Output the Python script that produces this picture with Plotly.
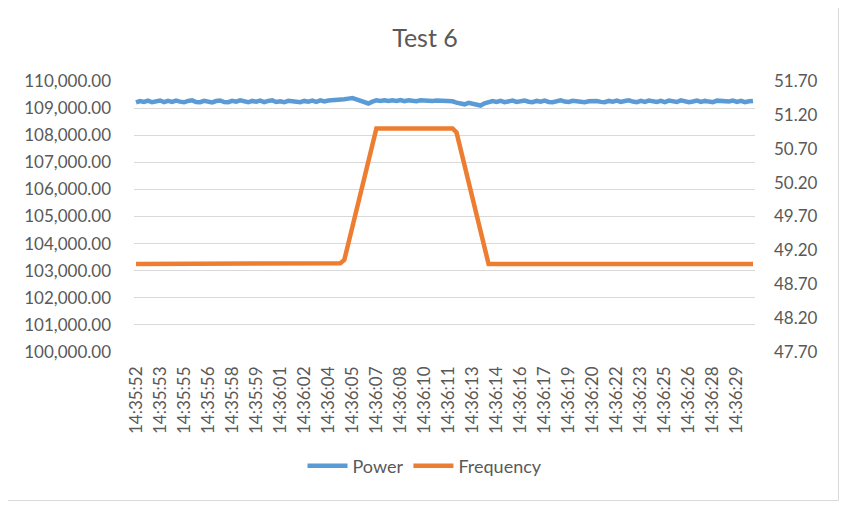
import plotly.graph_objects as go

# ---------------- data ----------------
start_label = "14:35:52"
step_seconds = 0.25

tick_labels = ["14:35:52", "14:35:53", "14:35:55", "14:35:56", "14:35:58", "14:35:59",
               "14:36:01", "14:36:02", "14:36:04", "14:36:05", "14:36:07", "14:36:08",
               "14:36:10", "14:36:11", "14:36:13", "14:36:14", "14:36:16", "14:36:17",
               "14:36:19", "14:36:20", "14:36:22", "14:36:23", "14:36:25", "14:36:26",
               "14:36:28", "14:36:29"]

power = [
    109210, 109260, 109225, 109275, 109215, 109250, 109280, 109220, 109265, 109230,
    109280, 109240, 109215, 109265, 109285, 109225, 109220, 109270, 109240, 109210,
    109260, 109280, 109225, 109220, 109270, 109235, 109285, 109230, 109215, 109265,
    109235, 109275, 109220, 109265, 109285, 109225, 109250, 109215, 109270, 109255,
    109225, 109220, 109265, 109240, 109275, 109230, 109285, 109250, 109280, 109290,
    109310, 109280, 109330, 109350, 109370, 109320, 109280, 109220, 109170, 109240,
    109285, 109265, 109290, 109260, 109285, 109265, 109295, 109255, 109290, 109270,
    109255, 109290, 109270, 109285, 109260, 109280, 109265, 109290, 109270, 109250,
    109200, 109150, 109140, 109195, 109155, 109130, 109095, 109175, 109225, 109260,
    109230, 109265, 109220, 109250, 109275, 109225, 109260, 109280, 109235, 109220,
    109265, 109235, 109275, 109225, 109220, 109265, 109285, 109240, 109225, 109270,
    109260, 109225, 109215, 109250, 109275, 109260, 109230, 109220, 109265, 109240,
    109275, 109225, 109260, 109285, 109240, 109220, 109265, 109230, 109275, 109245,
    109225, 109265, 109220, 109275, 109240, 109225, 109285, 109260, 109220, 109245,
    109275, 109225, 109265, 109240, 109220, 109275, 109260, 109225, 109245, 109275,
    109225, 109265, 109220, 109250, 109265,
]

frequency = [
    49.00, 49.00, 49.00, 49.00, 49.00, 49.00, 49.00, 49.00, 49.00, 49.00,
    49.00, 49.00, 49.00, 49.00, 49.00, 49.00, 49.00, 49.00, 49.00, 49.00,
    49.00, 49.01, 49.00, 49.00, 49.00, 49.00, 49.00, 49.00, 49.00, 49.00,
    49.00, 49.00, 49.00, 49.00, 49.00, 49.00, 49.00, 49.00, 49.00, 49.00,
    49.00, 49.00, 49.00, 49.00, 49.00, 49.00, 49.00, 49.00, 49.00, 49.00,
    49.00, 49.01, 49.06, 49.31, 49.56, 49.81, 50.06, 50.31, 50.56, 50.81,
    51.00, 51.00, 51.00, 51.00, 51.00, 51.00, 51.00, 51.00, 51.00, 51.00,
    51.00, 51.00, 51.00, 51.00, 51.00, 51.00, 51.00, 51.00, 51.00, 51.00,
    50.94, 50.69, 50.44, 50.19, 49.94, 49.69, 49.44, 49.19, 49.00, 49.00,
    49.00, 49.01, 49.00, 49.00, 49.00, 49.01, 49.00, 49.00, 49.00, 49.00,
    49.00, 49.00, 49.00, 49.00, 49.00, 49.00, 49.00, 49.00, 49.00, 49.00,
    49.00, 49.00, 49.00, 49.00, 49.01, 49.00, 49.00, 49.00, 49.00, 49.00,
    49.00, 49.00, 49.00, 49.00, 49.00, 49.00, 49.00, 49.00, 49.00, 49.00,
    49.00, 49.00, 49.00, 49.00, 49.00, 49.00, 49.00, 49.00, 49.01, 49.00,
    49.00, 49.00, 49.00, 49.00, 49.00, 49.00, 49.00, 49.00, 49.00, 49.00,
    49.00, 49.00, 49.00, 49.00, 49.00,
]

left_ticks = [100000, 101000, 102000, 103000, 104000, 105000, 106000, 107000,
              108000, 109000, 110000]
right_ticks = [47.70, 48.20, 48.70, 49.20, 49.70, 50.20, 50.70, 51.20, 51.70]

# sample time stamps (category axis)
h, m, s = [int(v) for v in start_label.split(":")]
base = h * 3600 + m * 60 + s
times = []
for i in range(len(power)):
    t = base + i * step_seconds
    hh = int(t // 3600); mm = int((t % 3600) // 60); ss = t % 60
    times.append(f"{hh:02d}:{mm:02d}:{ss:05.2f}")
tick_vals = times[::6][:len(tick_labels)]

# ---------------- figure ----------------
FONT = "Lato"
GRAY = "#595959"

# the page body has an 8px margin; figure coordinates are page coords minus OFF
OFF = 8
W, H = 854 - OFF, 515 - OFF
L, R, T, B = 134 - OFF, 755 - OFF, 81 - OFF, 352 - OFF
pw, ph = R - L, B - T

def px(xp):
    return (xp - OFF - L) / pw

def py(yp):
    return (B - (yp - OFF)) / ph

fig = go.Figure()
fig.add_trace(go.Scatter(x=times, y=power, name="Power", mode="lines",
                         line=dict(color="#5B9BD5", width=4.5)))
fig.add_trace(go.Scatter(x=times, y=frequency, name="Frequency", mode="lines",
                         line=dict(color="#ED7D31", width=4.5), yaxis="y2"))

fig.update_layout(
    width=W, height=H,
    margin=dict(l=L, r=W - R, t=T, b=H - B, pad=0),
    paper_bgcolor="white", plot_bgcolor="white",
    font=dict(family=FONT, size=17, color=GRAY),
    title=dict(text="Test 6", x=px(425), xref="paper", xanchor="center",
               y=1 - (38 - OFF) / H, yanchor="middle",
               font=dict(family=FONT, size=25, color=GRAY)),
    showlegend=True,
    legend=dict(orientation="h", x=px(425), xanchor="center", y=py(466),
                yanchor="middle", font=dict(family=FONT, size=18, color=GRAY),
                bgcolor="rgba(0,0,0,0)", itemwidth=40, tracegroupgap=0),
    xaxis=dict(type="category", tickmode="array", tickvals=tick_vals,
               ticktext=tick_labels, tickangle=-90, showgrid=False,
               showline=False, ticks="", zeroline=False,
               tickfont=dict(family=FONT, size=17, color=GRAY),
               ticklabelstandoff=10, range=[-0.5, len(times) - 0.5]),
    yaxis=dict(range=[100000, 110000], tickmode="array", tickvals=left_ticks,
               tickformat=",.2f", showgrid=True, gridcolor="#D9D9D9",
               gridwidth=1, zeroline=False, showline=False, ticks="",
               tickfont=dict(family=FONT, size=17, color=GRAY),
               ticklabelstandoff=22),
    yaxis2=dict(range=[47.7, 51.7], tickmode="array", tickvals=right_ticks,
                tickformat=".2f", overlaying="y", side="right", showgrid=False,
                zeroline=False, showline=False, ticks="",
                tickfont=dict(family=FONT, size=17, color=GRAY),
                ticklabelstandoff=18),
    shapes=[
        dict(type="line", xref="paper", yref="paper",
             x0=px(838.5), x1=px(838.5), y0=py(500.5), y1=py(8),
             line=dict(color="#D9D9D9", width=1), layer="below"),
        dict(type="line", xref="paper", yref="paper",
             x0=px(8), x1=px(838.5), y0=py(500.5), y1=py(500.5),
             line=dict(color="#D9D9D9", width=1), layer="below"),
        dict(type="rect", xref="paper", yref="paper",
             x0=px(852), x1=px(858), y0=py(520), y1=py(0),
             line=dict(width=0), fillcolor="black", layer="above"),
    ],
)

fig.write_html("out.html")
